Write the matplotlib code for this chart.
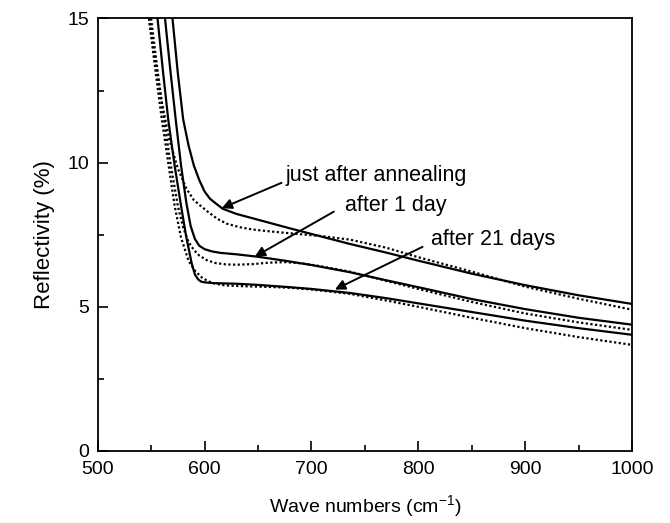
import matplotlib
matplotlib.use("Agg")
import matplotlib.pyplot as plt

plt.rcParams['font.family'] = ['Liberation Sans', 'DejaVu Sans']

# ---- data ----
ann_solid_x = [570, 575, 580, 585, 590, 595, 600, 605, 610, 617, 630, 650, 680, 710, 736, 770, 800, 850, 900, 950, 1000]
ann_solid_y = [15.0, 13.1, 11.5, 10.6, 9.9, 9.4, 9.0, 8.75, 8.6, 8.4, 8.22, 8.02, 7.72, 7.43, 7.18, 6.88, 6.6, 6.15, 5.75, 5.4, 5.1]

ann_dot_x = [548, 555, 560, 567, 575, 583, 590, 597, 603, 612, 621, 633, 645, 660, 680, 710, 736, 770, 800, 850, 900, 950, 1000]
ann_dot_y = [15.0, 13.3, 12.1, 10.8, 9.8, 9.1, 8.7, 8.48, 8.3, 8.05, 7.88, 7.76, 7.68, 7.62, 7.55, 7.45, 7.33, 7.05, 6.72, 6.22, 5.7, 5.28, 4.9]

d1_solid_x = [563, 568, 573, 578, 583, 587, 591, 595, 600, 607, 615, 630, 649, 675, 700, 736, 770, 800, 850, 900, 950, 1000]
d1_solid_y = [15.0, 13.2, 11.5, 9.9, 8.6, 7.8, 7.35, 7.12, 7.0, 6.92, 6.87, 6.82, 6.74, 6.6, 6.45, 6.2, 5.92, 5.68, 5.27, 4.92, 4.62, 4.38]

d1_dot_x = [550, 556, 562, 568, 575, 580, 585, 590, 595, 602, 610, 620, 630, 645, 660, 675, 690, 705, 736, 770, 800, 850, 900, 950, 1000]
d1_dot_y = [15.0, 13.2, 11.5, 10.0, 8.5, 7.75, 7.25, 6.97, 6.78, 6.62, 6.52, 6.47, 6.46, 6.48, 6.53, 6.55, 6.51, 6.43, 6.22, 5.9, 5.62, 5.17, 4.77, 4.46, 4.2]

d21_solid_x = [556, 561, 566, 572, 578, 583, 588, 591, 594, 597, 600, 605, 610, 630, 650, 680, 700, 736, 770, 800, 850, 900, 950, 1000]
d21_solid_y = [15.0, 13.2, 11.5, 9.9, 8.5, 7.4, 6.5, 6.12, 5.95, 5.87, 5.85, 5.83, 5.82, 5.8, 5.76, 5.68, 5.62, 5.48, 5.3, 5.12, 4.82, 4.52, 4.26, 4.03]

d21_dot_x = [548, 554, 560, 566, 572, 578, 585, 591, 598, 604, 610, 618, 625, 640, 660, 680, 700, 736, 770, 800, 850, 900, 950, 1000]
d21_dot_y = [15.0, 13.2, 11.5, 10.0, 8.5, 7.4, 6.6, 6.25, 6.0, 5.88, 5.8, 5.75, 5.73, 5.71, 5.69, 5.66, 5.6, 5.45, 5.22, 5.0, 4.62, 4.26, 3.95, 3.68]

labels = ["just after annealing", "after 1 day", "after 21 days"]
label_xy = [(676, 9.55), (731, 8.5), (812, 7.33)]
arrow_tip = [(616, 8.42), (647, 6.74), (722, 5.6)]
arrow_tail = [(672, 9.3), (721, 8.3), (804, 7.08)]

x_ticks = [500, 600, 700, 800, 900, 1000]
y_ticks = [0, 5, 10, 15]

# ---- figure ----
fig = plt.figure(figsize=(6.70, 5.23), dpi=100)
ax = fig.add_axes([0.1458, 0.1377, 0.7975, 0.8270])

solid_kw = dict(color='black', lw=1.6, ls='-', solid_capstyle='round')
dot_kw = dict(color='black', lw=1.6, ls=(0, (1, 1.1)))

ax.plot(ann_solid_x, ann_solid_y, **solid_kw)
ax.plot(ann_dot_x, ann_dot_y, **dot_kw)
ax.plot(d1_solid_x, d1_solid_y, **solid_kw)
ax.plot(d1_dot_x, d1_dot_y, **dot_kw)
ax.plot(d21_solid_x, d21_solid_y, **solid_kw)
ax.plot(d21_dot_x, d21_dot_y, **dot_kw)

for lab, (tx, ty), tip, tail in zip(labels, label_xy, arrow_tip, arrow_tail):
    ax.text(tx, ty, lab, fontsize=15.5, ha='left', va='center')
    ax.annotate('', xy=tip, xytext=tail,
                arrowprops=dict(arrowstyle='-|>', color='black', lw=1.4,
                                mutation_scale=15, shrinkA=0, shrinkB=0))

ax.set_xlim(500, 1000)
ax.set_ylim(0, 15)
ax.set_xticks(x_ticks)
ax.set_yticks(y_ticks)
ax.set_xticks([550, 650, 750, 850, 950], minor=True)
ax.set_yticks([2.5, 7.5, 12.5], minor=True)
ax.tick_params(which='major', direction='in', length=7, width=1.2, labelsize=14)
ax.tick_params(axis='x', which='major', pad=7)
ax.tick_params(axis='y', which='major', pad=6)
ax.tick_params(which='minor', direction='in', length=4, width=1.2)
ax.tick_params(top=False, right=False)
for s in ax.spines.values():
    s.set_linewidth(1.3)

ax.set_xlabel('Wave numbers (cm$^{\\mathregular{-1}}$)', fontsize=14, labelpad=11)
ax.set_ylabel('Reflectivity (%)', fontsize=16, labelpad=9)

fig.savefig('out.png', dpi=100)
